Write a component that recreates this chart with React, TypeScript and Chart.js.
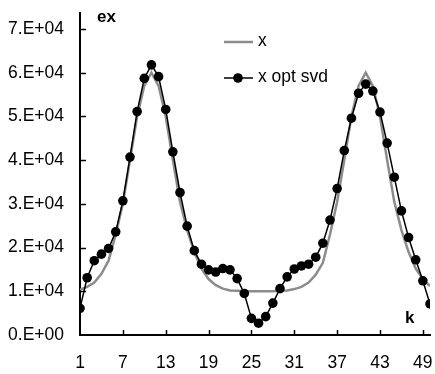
import React, { useEffect, useRef } from 'react';
import { Chart, registerables } from 'chart.js';

Chart.register(...registerables);

const kValues = [
  1, 2, 3, 4, 5, 6, 7, 8, 9, 10, 11, 12, 13, 14, 15, 16, 17, 18, 19, 20, 21, 22, 23, 24, 25,
  26, 27, 28, 29, 30, 31, 32, 33, 34, 35, 36, 37, 38, 39, 40, 41, 42, 43, 44, 45, 46, 47, 48, 49, 50,
];

const seriesX = [
  10400, 11000, 12000, 14000, 17000, 23000, 30000, 40000, 50000, 57000, 60000, 57000, 50000, 40000, 30500,
  24000, 19000, 15200, 12800, 11400, 10600, 10200, 10100, 10000, 10000, 10000, 10000, 10000, 10100, 10200,
  10500, 11000, 12000, 13800, 16500, 23000, 30500, 40000, 50000, 57000, 60000, 57000, 50000, 40000, 30500,
  24000, 19000, 15200, 12800, 11200,
];

const seriesXOptSvd = [
  6100, 13100, 17000, 18500, 19800, 23600, 30700, 40700, 51100, 58700, 61800, 59100, 51600, 41900, 32600,
  24900, 19300, 16200, 14900, 14400, 15200, 14900, 12900, 9500, 3800, 2700, 4200, 7300, 10600, 13300,
  15100, 15800, 16200, 17800, 21000, 26300, 33500, 42200, 49600, 55300, 57400, 55800, 51000, 43900, 36100,
  28400, 22300, 17200, 12400, 7100,
];

const xTickValues = [1, 7, 13, 19, 25, 31, 37, 43, 49];
const yTickValues = [0, 10000, 20000, 30000, 40000, 50000, 60000, 70000];
const yTickLabels = ['0.E+00', '1.E+04', '2.E+04', '3.E+04', '4.E+04', '5.E+04', '6.E+04', '7.E+04'];

const seriesNames = ['x', 'x opt svd'];
const yAxisTitle = 'ex';
const xAxisTitle = 'k';

const FONT = "'Liberation Sans', Arial, sans-serif";
const GRAY = '#8c8c8c';

const decorPlugin = {
  id: 'decor',
  afterDraw(chart: any) {
    const { ctx, chartArea, scales } = chart;
    const xs = scales.x;
    const ys = scales.y;
    ctx.save();
    // inside tick marks
    ctx.strokeStyle = '#000';
    ctx.lineWidth = 1.5;
    yTickValues.forEach((v) => {
      if (v === 0) return;
      const py = Math.round(ys.getPixelForValue(v)) + 0.5;
      ctx.beginPath();
      ctx.moveTo(chartArea.left, py);
      ctx.lineTo(chartArea.left + 6, py);
      ctx.stroke();
    });
    xTickValues.forEach((v) => {
      if (v === 1) return;
      const px = Math.round(xs.getPixelForValue(v)) + 0.5;
      ctx.beginPath();
      ctx.moveTo(px, chartArea.bottom);
      ctx.lineTo(px, chartArea.bottom - 5);
      ctx.stroke();
    });

    // axis titles
    ctx.fillStyle = '#000';
    ctx.font = `bold 17px ${FONT}`;
    ctx.textBaseline = 'alphabetic';
    ctx.textAlign = 'left';
    ctx.fillText(yAxisTitle, 97, 22);
    ctx.fillText(xAxisTitle, 405, 323);

    // legend
    ctx.font = `17.5px ${FONT}`;
    ctx.textBaseline = 'middle';
    ctx.strokeStyle = GRAY;
    ctx.lineWidth = 2.5;
    ctx.beginPath();
    ctx.moveTo(224, 42);
    ctx.lineTo(253, 42);
    ctx.stroke();
    ctx.fillText(seriesNames[0], 258, 41);

    ctx.strokeStyle = '#000';
    ctx.lineWidth = 1.5;
    ctx.beginPath();
    ctx.moveTo(224, 78);
    ctx.lineTo(253, 78);
    ctx.stroke();
    ctx.beginPath();
    ctx.arc(238, 78, 4.8, 0, Math.PI * 2);
    ctx.fill();
    ctx.fillText(seriesNames[1], 258, 77);
    ctx.restore();
  },
};

export default function App() {
  const canvasRef = useRef<HTMLCanvasElement>(null);

  useEffect(() => {
    const canvas = canvasRef.current;
    if (!canvas) return;
    const chart = new Chart(canvas, {
      type: 'line',
      data: {
        datasets: [
          {
            label: seriesNames[0],
            data: kValues.map((k, i) => ({ x: k, y: seriesX[i] })),
            borderColor: GRAY,
            backgroundColor: GRAY,
            borderWidth: 2.5,
            pointRadius: 0,
            tension: 0,
            order: 2,
          },
          {
            label: seriesNames[1],
            data: kValues.map((k, i) => ({ x: k, y: seriesXOptSvd[i] })),
            borderColor: '#000',
            backgroundColor: '#000',
            borderWidth: 1.5,
            pointRadius: 4.8,
            pointBackgroundColor: '#000',
            pointBorderWidth: 0,
            tension: 0,
            order: 1,
          },
        ],
      },
      options: {
        responsive: false,
        animation: false,
        layout: { padding: { top: 13, right: 5, left: 0, bottom: 0 } },
        plugins: {
          legend: { display: false },
          tooltip: { enabled: false },
        },
        scales: {
          x: {
            type: 'linear',
            min: 1,
            max: 50,
            afterBuildTicks: (scale: any) => {
              scale.ticks = xTickValues.map((v) => ({ value: v }));
            },
            afterFit: (scale: any) => {
              scale.height = 39;
              scale.paddingLeft = 0;
              scale.paddingRight = 0;
            },
            grid: { display: false, drawTicks: false },
            border: { display: true, color: '#000', width: 2 },
            ticks: {
              color: '#000',
              font: { family: FONT, size: 17.5 },
              padding: 18,
              maxRotation: 0,
              autoSkip: false,
            },
          },
          y: {
            type: 'linear',
            min: 0,
            max: 73660,
            afterBuildTicks: (scale: any) => {
              scale.ticks = yTickValues.map((v) => ({ value: v }));
            },
            afterFit: (scale: any) => {
              scale.width = 80;
              scale.paddingTop = 0;
              scale.paddingBottom = 0;
            },
            grid: { display: false, drawTicks: false },
            border: { display: true, color: '#000', width: 2 },
            ticks: {
              color: '#000',
              font: { family: FONT, size: 17.5 },
              padding: 16,
              autoSkip: false,
              callback: (value: any) => {
                const idx = yTickValues.indexOf(Number(value));
                return idx >= 0 ? yTickLabels[idx] : '';
              },
            },
          },
        },
      },
      plugins: [decorPlugin],
    });
    return () => chart.destroy();
  }, []);

  return (
    <div style={{ position: 'fixed', left: 0, top: 0, width: 435, height: 374, background: '#fff' }}>
      <canvas ref={canvasRef} width={435} height={374} style={{ display: 'block' }} />
    </div>
  );
}
